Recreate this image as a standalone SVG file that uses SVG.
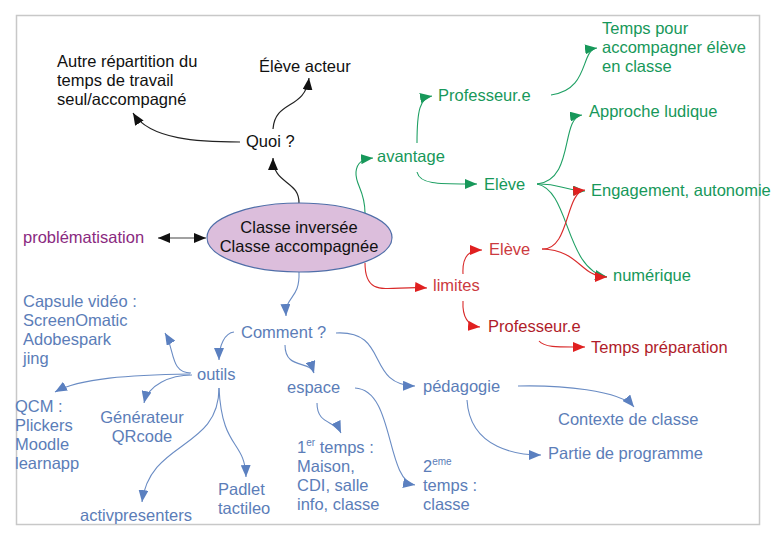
<svg xmlns="http://www.w3.org/2000/svg" width="775" height="536" viewBox="0 0 775 536">
<style>
text{font-family:"Liberation Sans",Arial,sans-serif;font-size:16.5px}
.k{fill:#111}
.g{fill:#17985a}
.r1{fill:#cc3a40}
.r2{fill:#b01c2a}
.b{fill:#5b7db8}
.p{fill:#8a2a80}
.ck{fill:none;stroke:#222;stroke-width:1.2}
.cg{fill:none;stroke:#1fa064;stroke-width:1.1}
.cr{fill:none;stroke:#d92a2a;stroke-width:1.1}
.cb{fill:none;stroke:#6a8cc4;stroke-width:1.1}
</style>
<defs>
<marker id="mk" markerUnits="userSpaceOnUse" markerWidth="12" markerHeight="10" refX="12" refY="5" orient="auto-start-reverse"><path d="M0,0 L12,5 L0,10 z" fill="#111"/></marker>
<marker id="mg" markerUnits="userSpaceOnUse" markerWidth="12" markerHeight="10" refX="12" refY="5" orient="auto"><path d="M0,0 L12,5 L0,10 z" fill="#17985a"/></marker>
<marker id="mr" markerUnits="userSpaceOnUse" markerWidth="12" markerHeight="10" refX="12" refY="5" orient="auto"><path d="M0,0 L12,5 L0,10 z" fill="#e02020"/></marker>
<marker id="mb" markerUnits="userSpaceOnUse" markerWidth="12" markerHeight="10" refX="12" refY="5" orient="auto"><path d="M0,0 L12,5 L0,10 z" fill="#5b80c0"/></marker>
</defs>
<rect x="0" y="0" width="775" height="536" fill="#fff"/>
<rect x="16.5" y="15.5" width="743" height="509" fill="none" stroke="#c8c8c8" stroke-width="1.5"/>

<g id="connectors">
<path class="ck" d="M299,204 C300,180 273,185 273,158" marker-end="url(#mk)"/>
<path class="ck" d="M273,129 C275,100 305,110 309,78" marker-end="url(#mk)"/>
<path class="ck" d="M240,142 C200,142 150,140 133,113" marker-end="url(#mk)"/>
<path class="ck" style="stroke:#444" d="M158,238 L206,238" marker-start="url(#mk)" marker-end="url(#mk)"/>

<path class="cg" d="M365,213 C365,190 355,185 356,172 C357,162 363,159 373,158" marker-end="url(#mg)"/>
<path class="cg" d="M417,143 C417,110 420,98 432,96" marker-end="url(#mg)"/>
<path class="cg" d="M417,172 C420,185 440,184 477,184" marker-end="url(#mg)"/>
<path class="cg" d="M551,95 C590,90 580,50 597,48" marker-end="url(#mg)"/>
<path class="cg" d="M537,184 C575,180 560,118 582,115" marker-end="url(#mg)"/>
<path class="cg" d="M537,184 C560,183 560,190 585,191" marker-end="url(#mg)"/>
<path class="cg" d="M537,184 C570,190 565,270 607,277" marker-end="url(#mg)"/>

<path class="cr" d="M365,263 C365,300 390,285 427,288" marker-end="url(#mr)"/>
<path class="cr" d="M463,274 C462,255 470,250 482,250" marker-end="url(#mr)"/>
<path class="cr" d="M463,301 C462,320 470,326 480,327" marker-end="url(#mr)"/>
<path class="cr" d="M542,249 C570,250 565,192 585,190" marker-end="url(#mr)"/>
<path class="cr" d="M542,249 C580,250 580,277 607,277" marker-end="url(#mr)"/>
<path class="cr" d="M539,341 C545,348 560,347 585,347" marker-end="url(#mr)"/>

<path class="cb" d="M299,272 C300,300 285,295 286,316" marker-end="url(#mb)"/>
<path class="cb" d="M234,332 C225,333 219,345 219,360" marker-end="url(#mb)"/>
<path class="cb" d="M285,345 C285,370 310,360 314,373" marker-end="url(#mb)"/>
<path class="cb" d="M336,333 C390,330 365,385 415,386" marker-end="url(#mb)"/>
<path class="cb" d="M518,386 C560,385 620,390 634,407" marker-end="url(#mb)"/>
<path class="cb" d="M467,400 C470,450 520,455 541,455" marker-end="url(#mb)"/>
<path class="cb" d="M317,403 C317,425 335,420 341,433" marker-end="url(#mb)"/>
<path class="cb" d="M355,388 C395,390 385,480 415,485" marker-end="url(#mb)"/>
<path class="cb" d="M191,373 C170,373 175,350 165,333" marker-end="url(#mb)"/>
<path class="cb" d="M190,374 C130,375 80,378 55,392" marker-end="url(#mb)"/>
<path class="cb" d="M192,375 C170,375 148,385 144,403" marker-end="url(#mb)"/>
<path class="cb" d="M219,388 C219,450 150,440 142,502" marker-end="url(#mb)"/>
<path class="cb" d="M219,388 C222,450 245,440 246,477" marker-end="url(#mb)"/>
</g>

<g id="center">
<ellipse cx="299.5" cy="237.5" rx="92.5" ry="34.5" fill="#dcbedc" stroke="#4f6ea8" stroke-width="1.2"/>
<text class="k" x="299" y="233" text-anchor="middle">Classe inversée</text>
<text class="k" x="299" y="252" text-anchor="middle">Classe accompagnée</text>
</g>

<g id="autre"><text class="k" x="57" y="67">Autre répartition du</text><text class="k" x="57" y="86">temps de travail</text><text class="k" x="57" y="105">seul/accompagné</text></g>
<g id="eleve-acteur"><text class="k" x="259" y="72">Élève acteur</text></g>
<g id="quoi"><text class="k" x="246" y="147">Quoi ?</text></g>
<g id="problematisation"><text class="p" x="23" y="243">problématisation</text></g>

<g id="avantage"><text class="g" x="377" y="162">avantage</text></g>
<g id="prof-g"><text class="g" x="438" y="101">Professeur.e</text></g>
<g id="eleve-g"><text class="g" x="484" y="190">Elève</text></g>
<g id="temps-pour"><text class="g" x="602" y="34">Temps pour</text><text class="g" x="602" y="53">accompagner élève</text><text class="g" x="602" y="72">en classe</text></g>
<g id="approche"><text class="g" x="589" y="117">Approche ludique</text></g>
<g id="engagement"><text class="g" x="591" y="196">Engagement, autonomie</text></g>
<g id="numerique"><text class="g" x="613" y="281">numérique</text></g>

<g id="limites"><text class="r1" x="433" y="291">limites</text></g>
<g id="eleve-r"><text class="r1" x="489" y="255">Elève</text></g>
<g id="prof-r"><text class="r2" x="488" y="332">Professeur.e</text></g>
<g id="temps-prep"><text class="r2" x="591" y="353">Temps préparation</text></g>

<g id="comment"><text class="b" x="241" y="338">Comment ?</text></g>
<g id="outils"><text class="b" x="197" y="380">outils</text></g>
<g id="espace"><text class="b" x="287" y="393">espace</text></g>
<g id="pedagogie"><text class="b" x="423" y="392">pédagogie</text></g>
<g id="contexte"><text class="b" x="558" y="425">Contexte de classe</text></g>
<g id="partie"><text class="b" x="548" y="459">Partie de programme</text></g>
<g id="temps1"><text class="b" x="297" y="453">1<tspan font-size="10" dy="-7">er</tspan><tspan dy="7"> temps :</tspan></text><text class="b" x="297" y="472">Maison,</text><text class="b" x="297" y="491">CDI, salle</text><text class="b" x="297" y="510">info, classe</text></g>
<g id="temps2"><text class="b" x="423" y="472">2<tspan font-size="10" dy="-7">eme</tspan></text><text class="b" x="423" y="491">temps :</text><text class="b" x="423" y="510">classe</text></g>
<g id="capsule"><text class="b" x="23" y="307">Capsule vidéo :</text><text class="b" x="23" y="326">ScreenOmatic</text><text class="b" x="23" y="345">Adobespark</text><text class="b" x="23" y="364">jing</text></g>
<g id="qcm"><text class="b" x="15" y="412">QCM :</text><text class="b" x="15" y="431">Plickers</text><text class="b" x="15" y="450">Moodle</text><text class="b" x="15" y="469">learnapp</text></g>
<g id="generateur"><text class="b" x="142" y="423" text-anchor="middle">Générateur</text><text class="b" x="142" y="442" text-anchor="middle">QRcode</text></g>
<g id="activ"><text class="b" x="80" y="521">activpresenters</text></g>
<g id="padlet"><text class="b" x="218" y="495">Padlet</text><text class="b" x="218" y="514">tactileo</text></g>
</svg>
